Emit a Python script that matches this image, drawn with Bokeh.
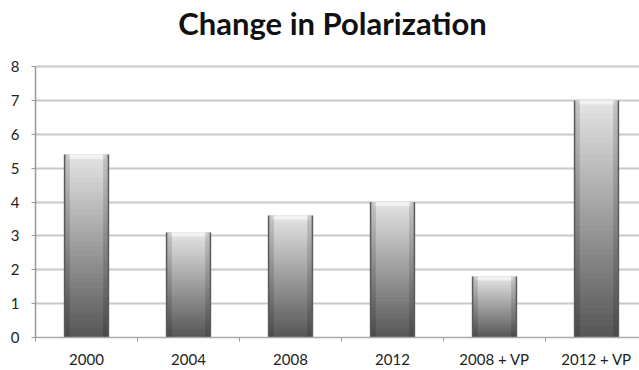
import numpy as np
from bokeh.plotting import figure
from bokeh.models import Range1d, FixedTicker, Label
from bokeh.embed import file_html
from bokeh.resources import INLINE

# ---- data ----
categories = ["2000", "2004", "2008", "2012", "2008 + VP", "2012 + VP"]
values = [5.4, 3.1, 3.6, 4.0, 1.8, 7.0]
y_ticks = [0, 1, 2, 3, 4, 5, 6, 7, 8]
title_text = "Change in Polarization"

xs = np.arange(len(categories)) + 0.5
bar_w = 0.43
y_max = 8
y_top = y_max * 337 / 271  # headroom above the axis for the title

p = figure(width=639, height=370, output_backend="svg", toolbar_location=None,
           x_range=Range1d(0, 604 / 102), y_range=Range1d(0, y_top),
           min_border_left=35, min_border_right=0, min_border_bottom=20,
           min_border_top=0)
p.outline_line_color = None
p.background_fill_color = "white"

# title drawn inside the frame headroom
p.add_layout(Label(x=(332 - 35) / 102, y=y_max, y_offset=44, text=title_text,
                   text_align="center", text_baseline="middle",
                   text_font="Lato", text_font_style="bold", text_font_size="31px",
                   text_color="#111111"))

# gradient bars built from stacked slices
N = 40
lo = np.array([0x55, 0x55, 0x55])
hi = np.array([0xe4, 0xe4, 0xe4])
bx, bb, bt, bc = [], [], [], []
for x, v in zip(xs, values):
    for i in range(N):
        f0, f1 = i / N, (i + 1) / N
        c = lo + (hi - lo) * ((f0 + f1) / 2)
        bx.append(x); bb.append(v * f0); bt.append(v * f1)
        bc.append("#%02x%02x%02x" % tuple(int(round(k)) for k in c))
p.vbar(x=bx, bottom=bb, top=bt, width=bar_w, fill_color=bc, line_color=bc, line_width=1)

# light cap at top of each bar
p.vbar(x=list(xs), bottom=[v - 0.12 for v in values], top=values, width=bar_w * 0.86,
       fill_color="#f4f4f4", fill_alpha=0.85, line_color=None)

# darker side shading (cylinder look)
edge = bar_w * 0.12
p.vbar(x=list(xs - bar_w / 2 + edge / 2), bottom=0, top=values, width=edge,
       fill_color="black", fill_alpha=0.14, line_color=None)
p.vbar(x=list(xs + bar_w / 2 - edge / 2), bottom=0, top=values, width=edge,
       fill_color="black", fill_alpha=0.14, line_color=None)
p.segment(x0=list(xs - bar_w / 2), y0=0, x1=list(xs - bar_w / 2), y1=values,
          line_color="#5a5a5a", line_width=1.5)
p.segment(x0=list(xs + bar_w / 2), y0=0, x1=list(xs + bar_w / 2), y1=values,
          line_color="#5a5a5a", line_width=1.5)

# axes
p.xaxis.ticker = FixedTicker(ticks=list(xs), minor_ticks=list(range(len(categories) + 1)))
p.xaxis.major_label_overrides = {float(x): c for x, c in zip(xs, categories)}
p.xaxis.major_tick_line_color = None
p.xaxis.minor_tick_out = 4
p.xaxis.minor_tick_in = 0
p.xaxis.minor_tick_line_color = "#999999"
p.xaxis.axis_line_color = "#aaaaaa"
p.xaxis.axis_line_width = 1.5
p.xaxis.major_label_standoff = 6
p.xaxis.major_label_text_font = "Lato"
p.xaxis.major_label_text_font_size = "15px"
p.xaxis.major_label_text_color = "#222222"

p.yaxis.ticker = FixedTicker(ticks=y_ticks, minor_ticks=[])
p.yaxis.bounds = (0, y_max)
p.yaxis.major_tick_out = 4
p.yaxis.major_tick_in = 0
p.yaxis.major_tick_line_color = "#999999"
p.yaxis.axis_line_color = "#999999"
p.yaxis.axis_line_width = 1.5
p.yaxis.major_label_standoff = 12
p.yaxis.major_label_text_font = "Lato"
p.yaxis.major_label_text_font_size = "15px"
p.yaxis.major_label_text_color = "#222222"

p.xgrid.grid_line_color = None
p.ygrid.ticker = FixedTicker(ticks=y_ticks)
p.ygrid.grid_line_color = "#c8c8c8"
p.ygrid.grid_line_width = 2
p.ygrid.level = "underlay"

open("out.html", "w").write(file_html(p, INLINE))
